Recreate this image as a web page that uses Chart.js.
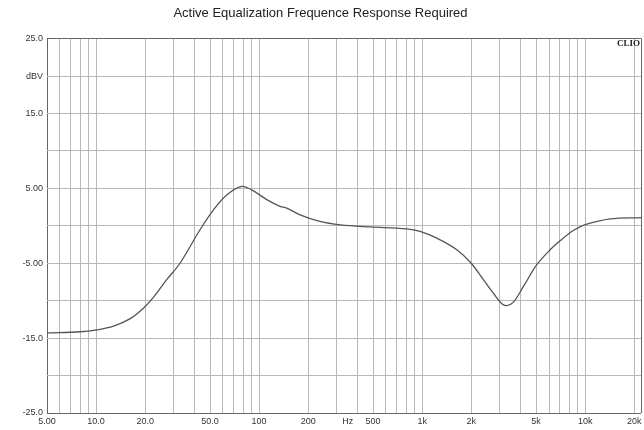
<!DOCTYPE html>
<html>
<head>
  <title>Active Equalization Frequence Response Required</title>
  <script src="https://cdn.jsdelivr.net/npm/chart.js"></script>
  <style>
    body {
      margin: 0;
      background: #fff;
    }

    .chart-container {
      width: 644px;
      height: 430px;
    }
  </style>
</head>
<body>
  <div class="chart-container">
    <canvas id="chart"></canvas>
  </div>

  <script>
    // response curve (Hz, dBV)
    var freqs = [5, 8, 10.1, 12.8, 16.2, 19.5, 22.6, 27.1, 32.7, 43.4, 52.4, 63.3, 78.2, 90.1, 111.4, 134.4, 147.7, 178.3, 236, 314, 479, 804, 971, 1229, 1631, 2000, 2375, 2735, 3081, 3306, 3630, 4180, 5050, 6095, 7015, 8500, 10000, 14220, 22000];
    var levels = [-14.3, -14.15, -13.9, -13.4, -12.4, -11.0, -9.5, -7.2, -5.0, -0.53, 2.1, 4.1, 5.25, 4.8, 3.5, 2.6, 2.36, 1.47, 0.58, 0.13, -0.15, -0.4, -0.75, -1.65, -3.2, -5.0, -7.2, -9.0, -10.4, -10.65, -10.2, -8.1, -5.2, -3.2, -2.0, -0.6, 0.15, 0.93, 1.1];

    // x grid lines and labels
    var xGrid = [5, 6, 7, 8, 9, 10, 20, 30, 40, 50, 60, 70, 80, 90, 100, 200, 300, 400, 500, 600, 700, 800, 900, 1000, 2000, 3000, 4000, 5000, 6000, 7000, 8000, 9000, 10000, 20000, 22000];
    var xLabelValues = [5, 10, 20, 50, 100, 200, 350, 500, 1000, 2000, 5000, 10000, 20000];
    var xLabelTexts = ['5.00', '10.0', '20.0', '50.0', '100', '200', 'Hz', '500', '1k', '2k', '5k', '10k', '20k'];

    var yLabelValues = [25, 20, 15, 5, -5, -15, -25];
    var yLabelTexts = ['25.0', 'dBV', '15.0', '5.00', '-5.00', '-15.0', '-25.0'];

    var points = freqs.map(function (f, i) { return { x: f, y: levels[i] }; });

    var clioMark = {
      id: 'clioMark',
      afterDraw: function (chart) {
        var ctx = chart.ctx;
        var area = chart.chartArea;
        ctx.save();
        ctx.font = 'bold 9px "Liberation Serif"';
        ctx.fillStyle = '#222';
        ctx.textAlign = 'right';
        ctx.textBaseline = 'top';
        ctx.fillText('CLIO', area.right - 1, area.top + 1);
        ctx.restore();
      }
    };

    var ctx = document.getElementById('chart').getContext('2d');
    var chart = new Chart(ctx, {
      type: 'line',
      data: {
        datasets: [{
          data: points,
          borderColor: '#555',
          borderWidth: 1.3,
          pointRadius: 0,
          fill: false,
          tension: 0.35
        }]
      },
      plugins: [clioMark],
      options: {
        responsive: true,
        maintainAspectRatio: false,
        animation: false,
        layout: { padding: { right: 3 } },
        plugins: {
          legend: { display: false },
          tooltip: { enabled: false },
          title: {
            display: true,
            text: 'Active Equalization Frequence Response Required',
            color: '#222',
            font: { family: 'Liberation Sans', size: 13, weight: 'normal' },
            padding: { top: 6, bottom: 17 }
          }
        },
        scales: {
          x: {
            type: 'logarithmic',
            min: 5,
            max: 22000,
            afterBuildTicks: function (scale) {
              var vals = xGrid.concat([350]).sort(function (a, b) { return a - b; });
              scale.ticks = vals.map(function (v) { return { value: v }; });
            },
            afterFit: function (scale) {
              scale.height = 17;
              scale.paddingLeft = 0;
              scale.paddingRight = 0;
            },
            ticks: {
              autoSkip: false,
              maxRotation: 0,
              padding: 3,
              color: '#333',
              font: { family: 'Liberation Sans', size: 9 },
              callback: function (value) {
                var i = xLabelValues.indexOf(value);
                return i >= 0 ? xLabelTexts[i] : '';
              }
            },
            grid: {
              drawTicks: false,
              lineWidth: 1,
              color: function (c) {
                if (!c.tick) return '#bbb';
                if (c.tick.value === 350) return 'rgba(0,0,0,0)';
                if (c.tick.value === 5 || c.tick.value === 22000) return '#666';
                return '#b8b8b8';
              }
            },
            border: { display: false }
          },
          y: {
            min: -25,
            max: 25,
            afterFit: function (scale) {
              scale.width = 47;
            },
            ticks: {
              stepSize: 5,
              padding: 4,
              color: '#333',
              font: { family: 'Liberation Sans', size: 9 },
              callback: function (value) {
                var i = yLabelValues.indexOf(value);
                return i >= 0 ? yLabelTexts[i] : '';
              }
            },
            grid: {
              drawTicks: false,
              color: function (c) {
                if (!c.tick) return '#bbb';
                if (c.tick.value === 25 || c.tick.value === -25) return '#666';
                return '#b8b8b8';
              }
            },
            border: { display: false }
          }
        }
      }
    });
  </script>
</body>
</html>
